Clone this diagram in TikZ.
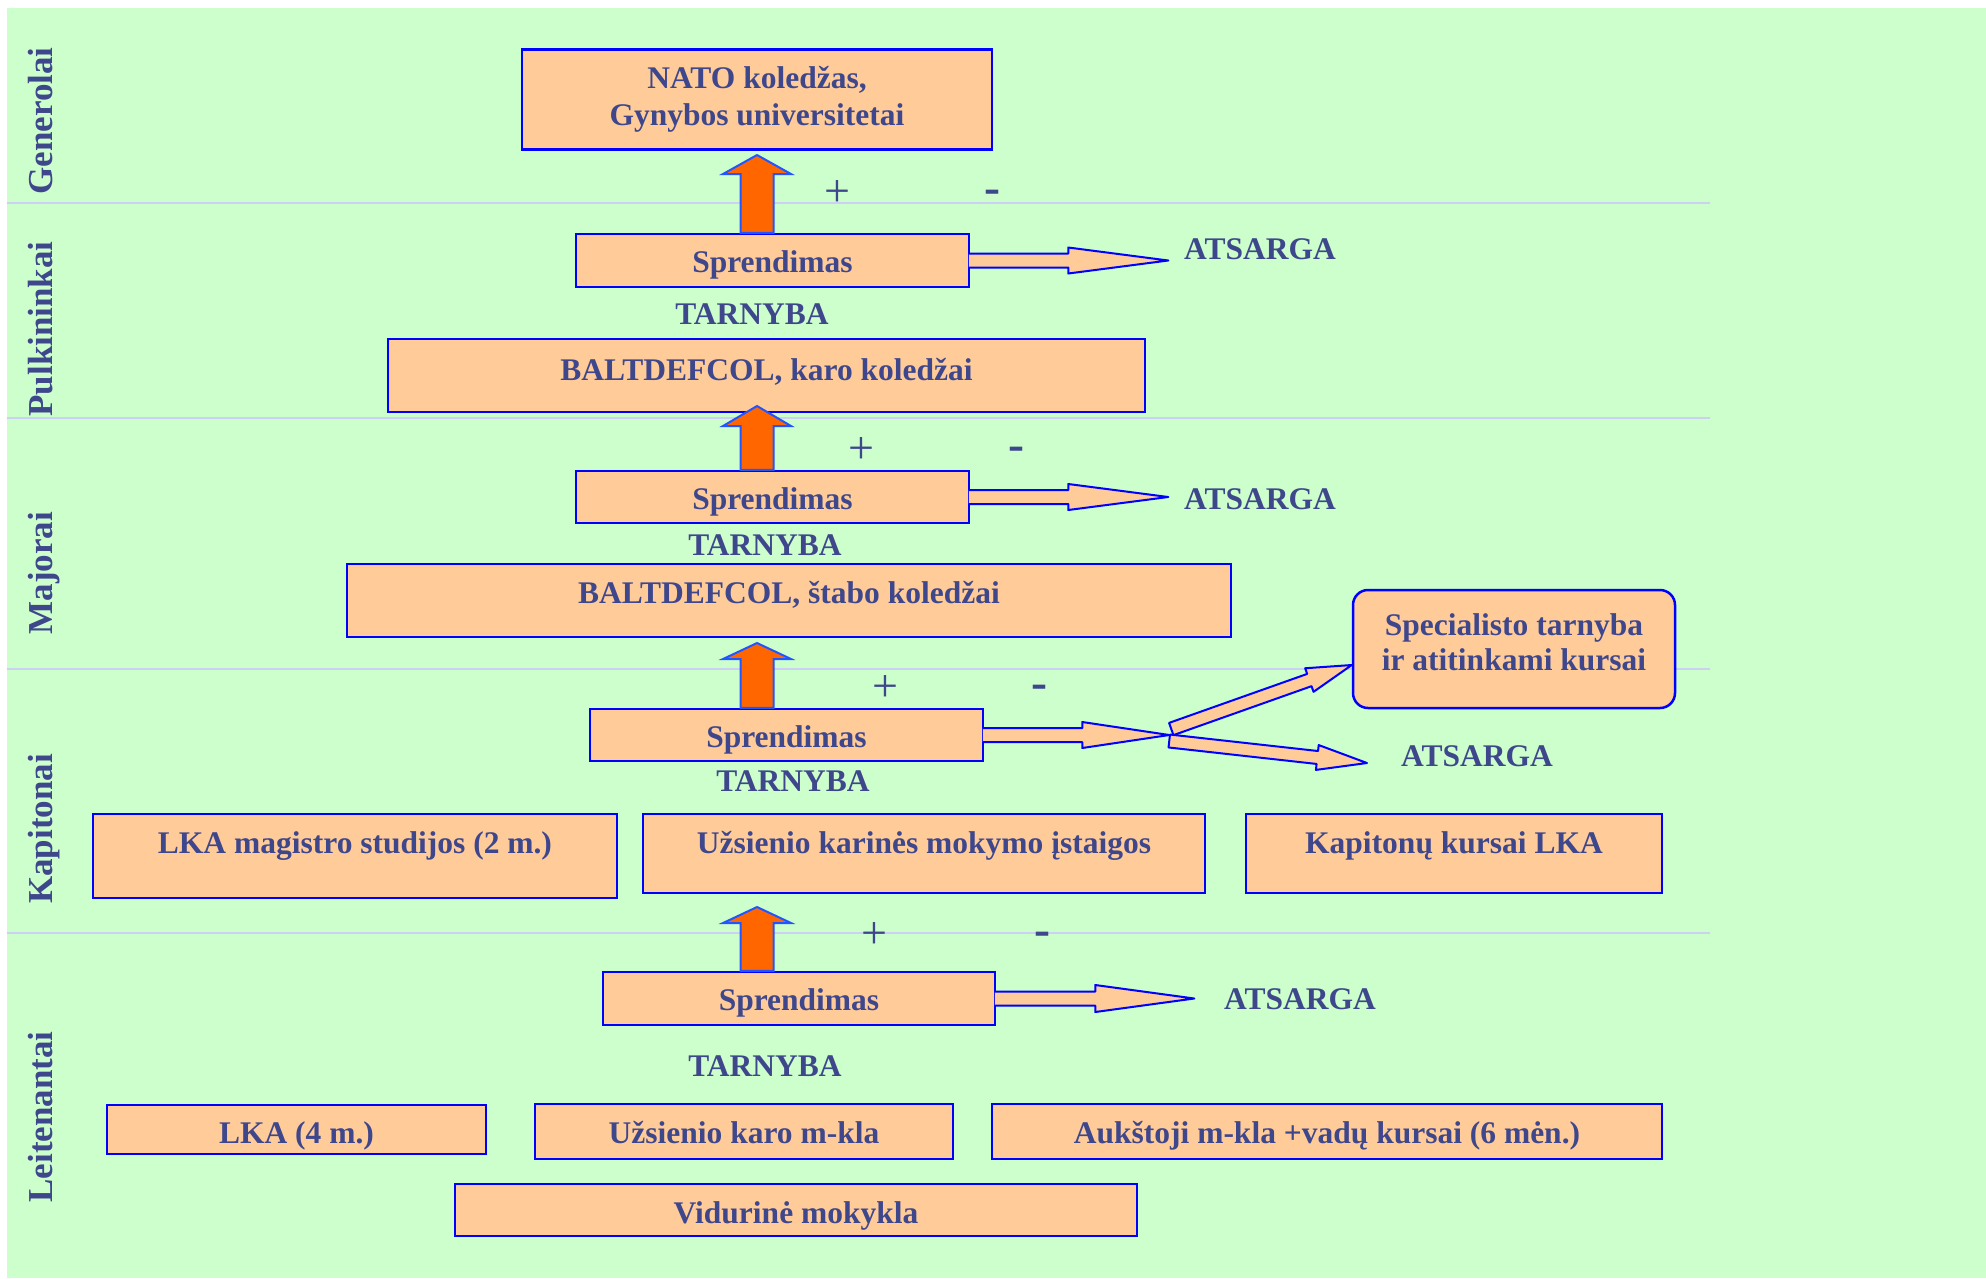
\documentclass[tikz,border=0pt]{standalone}
\usepackage{fontspec}
\setmainfont{Liberation Serif}
\usetikzlibrary{positioning,calc}
\definecolor{lanegreen}{HTML}{CCFFCC}
\definecolor{lanesep}{HTML}{CCD0F5}
\definecolor{boxfill}{HTML}{FFCC99}
\definecolor{boxline}{HTML}{0000FF}
\definecolor{txtblue}{HTML}{3F478C}
\definecolor{uporange}{HTML}{FF6600}
\definecolor{upline}{HTML}{2255FF}
\newcommand{\mainfnt}{\bfseries\fontsize{31.5}{37}\selectfont}
% block arrow, tail edge left open
\newcommand{\blockarrow}[6][]{%
  \coordinate (bahead) at ($(#3)!#6!(#2)$);
  \fill[#1,draw=none] ($(#2)!#4!90:(#3)$) -- ($(bahead)!#4!90:(#3)$) -- ($(bahead)!#5!90:(#3)$) -- (#3)
    -- ($(bahead)!#5!-90:(#3)$) -- ($(bahead)!#4!-90:(#3)$) -- ($(#2)!#4!-90:(#3)$) -- cycle;
  \draw[#1,fill=none] ($(#2)!#4!90:(#3)$) -- ($(bahead)!#4!90:(#3)$) -- ($(bahead)!#5!90:(#3)$) -- (#3)
    -- ($(bahead)!#5!-90:(#3)$) -- ($(bahead)!#4!-90:(#3)$) -- ($(#2)!#4!-90:(#3)$);}
% block arrow, closed
\newcommand{\blockarrowc}[6][]{%
  \coordinate (bahead) at ($(#3)!#6!(#2)$);
  \filldraw[#1] ($(#2)!#4!90:(#3)$) -- ($(bahead)!#4!90:(#3)$) -- ($(bahead)!#5!90:(#3)$) -- (#3)
    -- ($(bahead)!#5!-90:(#3)$) -- ($(bahead)!#4!-90:(#3)$) -- ($(#2)!#4!-90:(#3)$) -- cycle;}

\begin{document}
\begin{tikzpicture}[x=1pt,y=-1pt,
    box/.style={draw=boxline,fill=boxfill,line width=2.5pt,inner sep=0pt,text=txtblue,
      font=\mainfnt,text height=28pt,text depth=4pt},
    roundbox/.style={box,rounded corners=15pt},
    lbl/.style={text=txtblue,font=\mainfnt,inner sep=0pt,text height=21pt,text depth=0pt},
    lane/.style={lbl,rotate=90,font=\bfseries\fontsize{35}{40}\selectfont,text height=23pt},
    plus/.style={text=txtblue,inner sep=0pt,font=\fontsize{46}{46}\selectfont},
    minus/.style={text=txtblue,inner sep=0pt,font=\bfseries\fontsize{48}{48}\selectfont},
    sepline/.style={draw=lanesep,line width=2pt},
    uparrow/.style={fill=uporange,draw=upline,line width=2pt},
    sidearrow/.style={fill=boxfill,draw=boxline,line width=2pt,line join=round}]
    \useasboundingbox (0,0) rectangle (1986,1278);
    \fill[lanegreen] (7,8) rectangle (1986,1278);
    % lanes
    \foreach \y in {203,418,669,933}
        \draw[sepline] (7,\y) -- (1710,\y);
    \node[lane] (gen) at (41,121) {Generolai};
    \node[lane] (pulk) at (41,329) {Pulkininkai};
    \node[lane] (maj) at (41,573) {Majorai};
    \node[lane] (kap) at (41,829) {Kapitonai};
    \node[lane] (leit) at (41,1117) {Leitenantai};

    % boxes
    \node[box,minimum width=470pt,minimum height=100pt,align=center,text height=,text depth=] (nato) at (757,99.5) {NATO koledžas,\\Gynybos universitetai};
    \node[box,minimum width=393pt,minimum height=53pt] (spr1) at (772.5,260.5) {Sprendimas};
    \node[box,minimum width=757pt,minimum height=73pt,text height=22pt,text depth=12pt] (karo) at (766.5,375.5) {BALTDEFCOL, karo koledžai};
    \node[box,minimum width=393pt,minimum height=52pt] (spr2) at (772.5,497) {Sprendimas};
    \node[box,minimum width=884pt,minimum height=73pt,text height=22pt,text depth=16pt] (stabo) at (789,600.5) {BALTDEFCOL, štabo koledžai};
    \node[roundbox,minimum width=322pt,minimum height=118pt,align=center,text height=,text depth=,font=\bfseries\fontsize{31.5}{35}\selectfont] (spec) at (1514,649) {Specialisto tarnyba\\ir atitinkami kursai\rule[-14pt]{0pt}{14pt}};
    \node[box,minimum width=393pt,minimum height=52pt] (spr3) at (786.5,735) {Sprendimas};
    \node[box,minimum width=524pt,minimum height=84pt,text height=22pt,text depth=27pt] (lkamag) at (355,856) {LKA magistro studijos (2 m.)};
    \node[box,minimum width=562pt,minimum height=79pt,text height=22pt,text depth=22pt] (uzkar) at (924,853.5) {Užsienio karinės mokymo įstaigos};
    \node[box,minimum width=416pt,minimum height=79pt,text height=22pt,text depth=22pt] (kpt) at (1454,853.5) {Kapitonų kursai LKA};
    \node[box,minimum width=392pt,minimum height=53pt] (spr4) at (799,998.5) {Sprendimas};
    \node[box,minimum width=379pt,minimum height=49pt,text height=30pt,text depth=3pt] (lka4) at (296.5,1129.5) {LKA (4 m.)};
    \node[box,minimum width=418pt,minimum height=55pt] (uzmk) at (744,1131.5) {Užsienio karo m-kla};
    \node[box,minimum width=670pt,minimum height=55pt] (auk) at (1327,1131.5) {Aukštoji m-kla +vadų kursai (6 mėn.)};
    \node[box,minimum width=682pt,minimum height=52pt,text height=30pt,text depth=3pt] (vid) at (796,1210) {Vidurinė mokykla};

    % labels
    \node[lbl] (tarn1) at (752,314) {TARNYBA};
    \node[lbl] (tarn2) at (765,545) {TARNYBA};
    \node[lbl] (tarn3) at (793,781) {TARNYBA};
    \node[lbl] (tarn4) at (765,1066) {TARNYBA};
    \node[lbl] (ats1) at (1260,249) {ATSARGA};
    \node[lbl] (ats2) at (1260,499) {ATSARGA};
    \node[lbl] (ats3) at (1477,756) {ATSARGA};
    \node[lbl] (ats4) at (1300,999) {ATSARGA};
    \node[plus] (p1) at (837,193) {+};
    \node[minus] (m1) at (992,197) {-};
    \node[plus] (p2) at (861,450) {+};
    \node[minus] (m2) at (1016,454) {-};
    \node[plus] (p3) at (885,688) {+};
    \node[minus] (m3) at (1039,692) {-};
    \node[plus] (p4) at (874,935) {+};
    \node[minus] (m4) at (1042,939) {-};

    % up arrows
    \coordinate (u1t) at (757,155);
    \coordinate (u1b) at (u1t |- spr1.north);
    \coordinate (u2t) at (757,406);
    \coordinate (u2b) at (u2t |- spr2.north);
    \coordinate (u3t) at (757,643);
    \coordinate (u3b) at (u3t |- spr3.north);
    \coordinate (u4t) at (757,907);
    \coordinate (u4b) at (u4t |- spr4.north);
    \blockarrowc[uparrow]{u1b}{u1t}{16.5pt}{34pt}{19pt}
    \blockarrowc[uparrow]{u2b}{u2t}{16.5pt}{34pt}{20pt}
    \blockarrowc[uparrow]{u3b}{u3t}{16.5pt}{34pt}{16pt}
    \blockarrowc[uparrow]{u4b}{u4t}{16.5pt}{34pt}{16pt}

    % side arrows
    \coordinate (r1s) at ($(spr1.east)+(-1.5,0)$);
    \coordinate (res1) at ($(spr1.east)+(198,0)$);
    \coordinate (r2s) at ($(spr2.east)+(-1.5,0)$);
    \coordinate (res2) at ($(spr2.east)+(198,0)$);
    \coordinate (r3s) at ($(spr3.east)+(-1.5,0)$);
    \coordinate (split) at ($(spr3.east)+(185,0)$);
    \coordinate (r4s) at ($(spr4.east)+(-1.5,0)$);
    \coordinate (res4) at ($(spr4.east)+(198,0)$);
    \blockarrow[sidearrow]{r1s}{res1}{7pt}{13pt}{100pt}
    \blockarrow[sidearrow]{r2s}{res2}{7pt}{13pt}{100pt}
    \blockarrow[sidearrow]{r3s}{split}{7pt}{13pt}{87pt}
    \blockarrow[sidearrow]{r4s}{res4}{7pt}{13.5pt}{99pt}
    \coordinate (sp1) at ($(split)+(2,-6)$);
    \coordinate (sp2) at ($(split)+(0,6)$);
    \coordinate (spectip) at ($(spec.west)+(0,16)$);
    \coordinate (res3) at (1367,763);
    \blockarrowc[sidearrow]{sp2}{res3}{6.5pt}{12.5pt}{50pt}
    \blockarrowc[sidearrow]{sp1}{spectip}{6.5pt}{12.5pt}{45pt}
\end{tikzpicture}
\end{document}
